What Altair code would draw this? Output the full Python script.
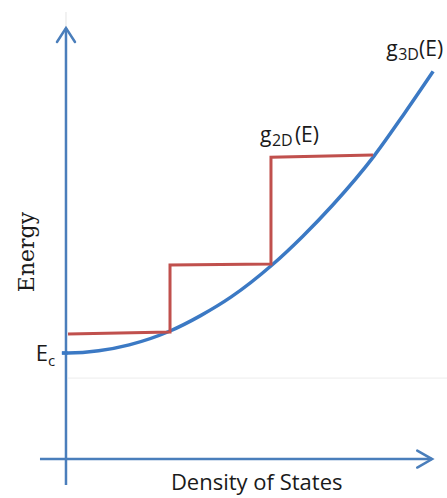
import altair as alt
import pandas as pd

# Blue g_3D(E) curve (DOS in step units, energy above E_c)
dos_3d = [-0.06, 0.0, 0.3, 0.6, 1.0, 1.3, 1.6, 2.0, 2.3, 2.6, 3.0, 3.3, 3.58]
energy_3d = [0.0, 0.0, 0.1, 0.37, 1.0, 1.7, 2.55, 4.0, 5.3, 6.75, 8.95, 10.9, 12.8]

# Red g_2D(E) staircase corners
dos_2d = [0.0, 1.0, 1.0, 1.99, 1.99, 2.99]
energy_2d = [0.86, 0.95, 4.0, 4.05, 8.9, 9.0]

# Hand-drawn axes (data units)
v_axis_x = -0.02
v_axis_e = [-6.0, 14.77]
h_axis_e = -4.82
h_axis_x = [-0.275, 3.57]
faint_e = -1.14

X_DOMAIN = [-0.667, 3.716]
Y_DOMAIN = [-6.59, 16.045]

AXIS_BLUE = "#4a7ebb"
CURVE_BLUE = "#3b79c4"
RED = "#c0504d"
SANS = "Open Sans"

xs = alt.Scale(domain=X_DOMAIN, nice=False, zero=False)
ys = alt.Scale(domain=Y_DOMAIN, nice=False, zero=False)


def X(f="x"):
    return alt.X(f"{f}:Q", scale=xs, axis=None)


def Y(f="y"):
    return alt.Y(f"{f}:Q", scale=ys, axis=None)


curve_df = pd.DataFrame({"x": dos_3d, "y": energy_3d})
step_df = pd.DataFrame({"x": dos_2d, "y": energy_2d, "o": list(range(len(dos_2d)))})

faint_h = alt.Chart(pd.DataFrame({"x": [0.0], "x2": [X_DOMAIN[1]], "y": [faint_e]})).mark_rule(
    color="#ececec", strokeWidth=1).encode(x=X(), x2="x2:Q", y=Y())
faint_v = alt.Chart(pd.DataFrame({"x": [v_axis_x], "y": [v_axis_e[1]], "y2": [15.5]})).mark_rule(
    color="#e4e4e4", strokeWidth=1).encode(x=X(), y=Y(), y2="y2:Q")

v_axis = alt.Chart(pd.DataFrame({"x": [v_axis_x], "y": [v_axis_e[0]], "y2": [v_axis_e[1]]})).mark_rule(
    color=AXIS_BLUE, strokeWidth=2.5).encode(x=X(), y=Y(), y2="y2:Q")
h_axis = alt.Chart(pd.DataFrame({"x": [h_axis_x[0]], "x2": [h_axis_x[1]], "y": [h_axis_e]})).mark_rule(
    color=AXIS_BLUE, strokeWidth=2.5).encode(x=X(), x2="x2:Q", y=Y())

up_head = alt.Chart(pd.DataFrame({"x": [v_axis_x], "y": [v_axis_e[1]]})).mark_point(
    shape="M-1,1.55L0,0L1,1.55", size=324, filled=False, color=AXIS_BLUE,
    strokeWidth=2.5, opacity=1, strokeCap="round", strokeJoin="miter").encode(x=X(), y=Y())
right_head = alt.Chart(pd.DataFrame({"x": [h_axis_x[1]], "y": [h_axis_e]})).mark_point(
    shape="M-1.75,-1L0,0L-1.75,1", size=289, filled=False, color=AXIS_BLUE,
    strokeWidth=2.5, opacity=1, strokeCap="round", strokeJoin="miter").encode(x=X(), y=Y())

ec_tick = alt.Chart(pd.DataFrame({"x": [dos_3d[0]], "x2": [0.0], "y": [0.0]})).mark_rule(
    color=CURVE_BLUE, strokeWidth=3).encode(x=X(), x2="x2:Q", y=Y())

curve = alt.Chart(curve_df).mark_line(
    color=CURVE_BLUE, strokeWidth=3.5, interpolate="monotone").encode(x=X(), y=Y())
steps = alt.Chart(step_df).mark_line(
    color=RED, strokeWidth=3, strokeJoin="miter").encode(x=X(), y=Y(), order="o:Q")


def label(text, ax, ay, dx, dy, size, align="left", font=SANS, angle=0, baseline="alphabetic"):
    df = pd.DataFrame({"x": [ax], "y": [ay], "t": [text]})
    return alt.Chart(df).mark_text(
        align=align, baseline=baseline, dx=dx, dy=dy, fontSize=size, font=font,
        color="#1a1a1a", angle=angle).encode(x=X(), y=Y(), text="t:N")


# anchors taken from the data
ec_x, ec_y = 0.0, energy_3d[1]
g3_x, g3_y = dos_3d[-1], energy_3d[-1]
g2_x, g2_y = dos_2d[4], energy_2d[4]

labels = [
    label("E", ec_x, ec_y, -20, 8, 22, align="right"),
    label("c", ec_x, ec_y, -20, 13, 15),
    label("g", g3_x, g3_y, -47, -15, 21),
    label("3D", g3_x, g3_y, -35, -11, 16),
    label("(E)", g3_x, g3_y, 10, -15, 21, align="right"),
    label("g", g2_x, g2_y, -11, -15, 21),
    label("2D", g2_x, g2_y, 1, -11, 16),
    label("(E)", g2_x, g2_y, 48, -15, 21, align="right"),
    label("Density of States", 1.85, h_axis_e, 0, 31, 22, align="center"),
    label("Energy", -0.40, 4.59, 0, 0, 22, align="center", font="DejaVu Serif",
          angle=270, baseline="middle"),
]

chart = alt.layer(
    faint_h, faint_v, v_axis, h_axis, up_head, right_head, ec_tick, curve, steps, *labels
).properties(
    width=447, height=498, padding=0, autosize="none"
).configure_view(stroke=None)

chart.save("out.html", embed_options={"renderer": "svg", "actions": False})
